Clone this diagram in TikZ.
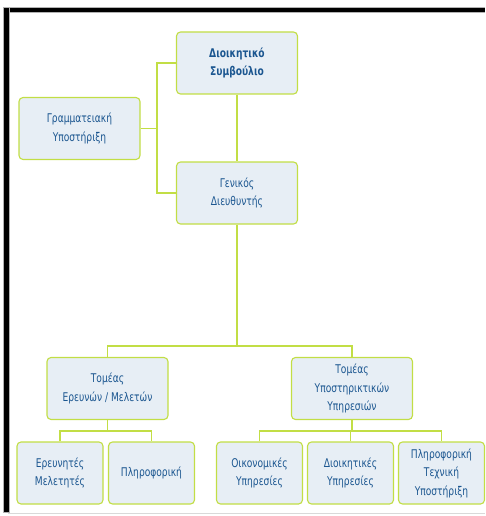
\documentclass[tikz,border=0pt]{standalone}
\usepackage{fontspec}
\setmainfont[FakeStretch=0.76]{DejaVu Sans}
\definecolor{boxfill}{HTML}{E7EEF5}
\definecolor{boxline}{HTML}{C2DE45}
\definecolor{boxtext}{HTML}{1B5690}
\begin{document}
\begin{tikzpicture}[
  x=1pt, y=-1pt,
  unit/.style={rectangle, rounded corners=4pt, draw=boxline, line width=1.1pt,
    fill=boxfill, text=boxtext, align=center, font=\fontsize{12}{18.5}\selectfont,
    minimum height=62pt, inner sep=2pt},
  wide/.style={unit, minimum width=121pt},
  narrow/.style={unit, minimum width=86pt},
  link/.style={draw=boxline, line width=1.1pt}
]
\useasboundingbox (0,0) rectangle (485,516);

% frame
\fill[gray!60] (3,7) rectangle (485,13);
\fill[black] (4,8.5) rectangle (485,12.5);
\fill[gray!60] (3,7) rectangle (10,513);
\fill[black] (4,8.5) rectangle (8.5,512);
\draw[gray!30, line width=1pt] (8,513) -- (485,513);

\node[wide, font=\fontsize{12}{18.5}\selectfont\bfseries] (ds) at (237,63) {Διοικητικό\\Συμβούλιο};
\node[wide] (gram) at (79.5,128.5) {Γραμματειακή\\Υποστήριξη};
\node[wide] (gd) at (237,193) {Γενικός\\Διευθυντής};
\node[wide] (ter) at (107.5,388.5) {Τομέας\\Ερευνών / Μελετών};
\node[wide] (tys) at (352,388.5) {Τομέας\\Υποστηρικτικών\\Υπηρεσιών};
\node[narrow] (er) at (60,473) {Ερευνητές\\Μελετητές};
\node[narrow] (pl) at (151.5,473) {Πληροφορική};
\node[narrow] (oik) at (259.5,473) {Οικονομικές\\Υπηρεσίες};
\node[narrow] (dioik) at (350.5,473) {Διοικητικές\\Υπηρεσίες};
\node[narrow] (pts) at (441.5,473) {Πληροφορική\\Τεχνική\\Υποστήριξη};

\coordinate (gbus) at (157,128.5);
\coordinate (hub) at (237,346);
\coordinate (lb) at (107.5,431);
\coordinate (rb) at (352,431);

\draw[link] (ds) -- (gd);
\draw[link] (ds.west) -| (gbus) |- (gd.west);
\draw[link] (gram.east) -- (gbus);

\draw[link] (gd.south) -- (hub);
\draw[link] (ter.north) |- (hub) -| (tys.north);

% sub units
\draw[link] (ter.south) -- (lb);
\draw[link] (er.north) |- (lb) -| (pl.north);
\draw[link] (tys.south) -- (rb);
\draw[link] (oik.north) |- (rb) -| (pts.north);
\draw[link] (dioik.north) -- (dioik.north |- rb);
\end{tikzpicture}
\end{document}
